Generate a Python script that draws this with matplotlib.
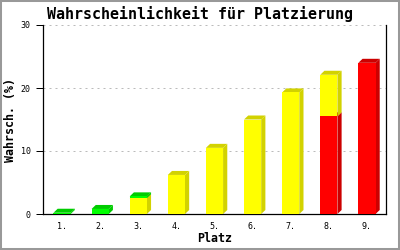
import numpy as np
import matplotlib.pyplot as plt
from matplotlib.patches import Polygon, Rectangle

places = ["1.", "2.", "3.", "4.", "5.", "6.", "7.", "8.", "9."]
red = [0, 0, 0, 0, 0, 0, 0, 15.5, 24.0]
yellow = [0, 0, 2.5, 6.2, 10.5, 15.0, 19.3, 6.6, 0]
green = [0.2, 0.8, 0.3, 0, 0, 0, 0, 0, 0]

# front colour, side/top colour
series = [
    (red, "#ff0000", "#cc0000"),
    (yellow, "#ffff00", "#d2d200"),
    (green, "#00ff00", "#00cc00"),
]

fig = plt.figure(figsize=(4, 2.5), dpi=100)
ax = fig.add_axes([43 / 400, 1 - 214 / 250, (386 - 43) / 400, (214 - 25) / 250])

ax.set_xlim(-0.5, len(places) - 0.5)
ax.set_ylim(0, 30)

# 3d depth in data units (about 4 px each way)
dx = 4.2 * len(places) / 343
dy = 4.0 * 30 / 189
w = 0.45

bottom = np.zeros(len(places))
for vals, front, side in series:
    vals = np.array(vals, dtype=float)
    for i, v in enumerate(vals):
        if v <= 0:
            continue
        y0, y1 = bottom[i], bottom[i] + v
        xl, xr = i - w / 2, i + w / 2
        ax.add_patch(Polygon([(xr, y0), (xr + dx, y0 + dy), (xr + dx, y1 + dy), (xr, y1)],
                             closed=True, fc=side, ec="none", zorder=2))
        ax.add_patch(Polygon([(xl, y1), (xl + dx, y1 + dy), (xr + dx, y1 + dy), (xr, y1)],
                             closed=True, fc=side, ec="none", zorder=2))
        ax.add_patch(Rectangle((xl, y0), w, v, fc=front, ec="none", zorder=3))
    bottom += vals

ax.set_yticks([0, 10, 20, 30])
ax.yaxis.grid(True, color="#bbbbbb", linestyle=(0, (2, 4)), linewidth=0.72, zorder=0)
ax.set_axisbelow(True)
ax.set_xticks(range(len(places)))
ax.set_xticklabels(places)

ax.tick_params(axis="y", length=5, width=0.72, pad=4, labelsize=6, direction="out")
ax.tick_params(axis="x", length=0, pad=6, labelsize=6)
for lab in ax.get_xticklabels() + ax.get_yticklabels():
    lab.set_family("DejaVu Sans Mono")

ax.spines["top"].set_visible(False)
for s in ["left", "right", "bottom"]:
    ax.spines[s].set_linewidth(0.9)
    ax.spines[s].set_color("black")

ax.set_xlabel("Platz", family="DejaVu Sans Mono", fontweight="bold", fontsize=8.4, va="center")
ax.set_ylabel("Wahrsch. (%)", family="DejaVu Sans Mono", fontweight="bold", fontsize=8.4, va="center")
ax.xaxis.set_label_coords(0.5, (214 - 239) / 189)
ax.yaxis.set_label_coords((11 - 43) / 343, 0.5)

fig.text(0.5, 1 - 14 / 250, "Wahrscheinlichkeit für Platzierung", ha="center", va="center",
         family="DejaVu Sans Mono", fontweight="bold", fontsize=10.8)

fig.patches.append(Rectangle((0, 0), 1, 1, transform=fig.transFigure, fill=False,
                             ec="#999999", lw=2.9, zorder=10))

fig.savefig("out.png", dpi=100)
